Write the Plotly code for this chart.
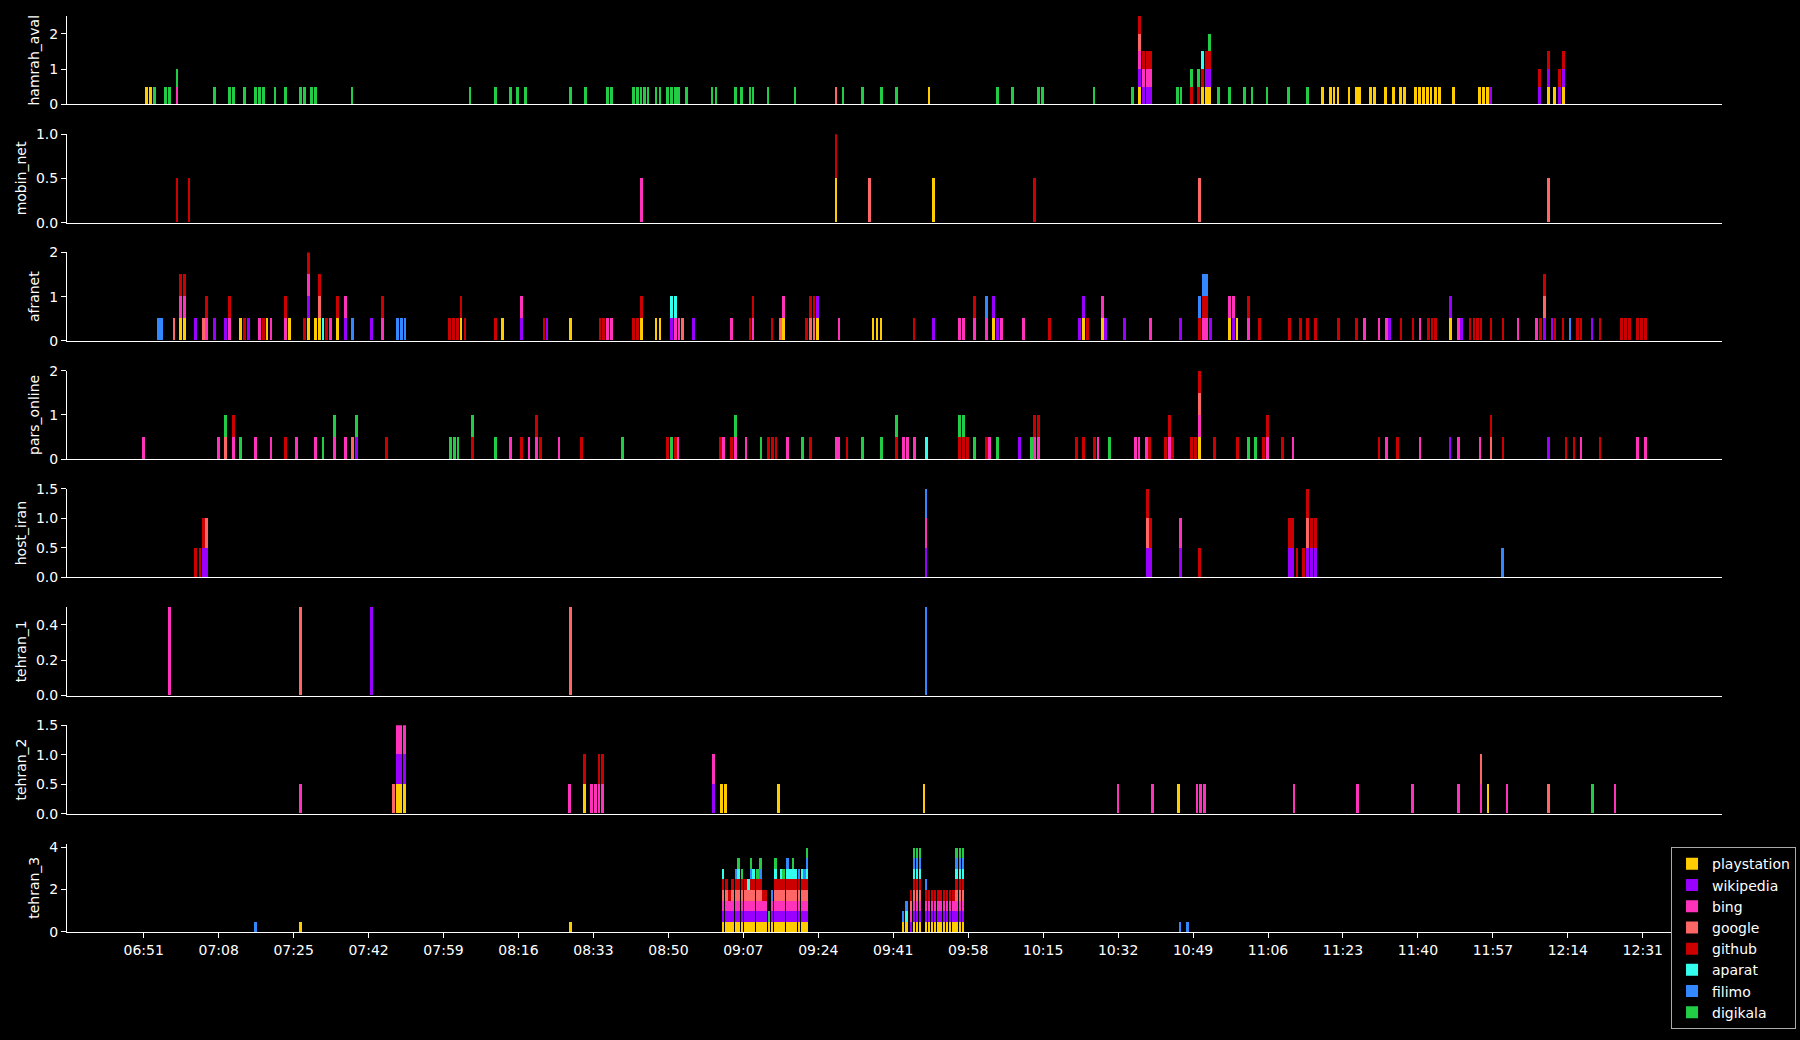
import plotly.graph_objects as go
from plotly.subplots import make_subplots

DATE = "2024-01-01"

SERVICES = ["playstation", "wikipedia", "bing", "google", "github", "aparat", "filimo", "digikala"]
CODES = ["P", "W", "B", "G", "H", "A", "F", "D"]
COLORS = ["#ffcc00", "#9900ff", "#ff33bb", "#ff6666", "#cc0000", "#33ffee", "#3388ff", "#22cc44"]
UNIT = 0.5  # height of one service segment

PANELS = ["hamrah_aval", "mobin_net", "afranet", "pars_online", "host_iran", "tehran_1", "tehran_2", "tehran_3"]

# (time, services present) ; each letter is one UNIT segment
HAMRAH_AVAL = [
    ("06:51:34", "P"), ("06:52:28", "P"), ("06:53:24", "D"), ("06:55:58", "D"), ("06:56:52", "D"),
    ("06:58:33", "BD"), ("07:07:06", "D"), ("07:10:24", "D"), ("07:11:24", "D"), ("07:13:54", "D"),
    ("07:16:24", "D"), ("07:17:18", "D"), ("07:18:12", "D"), ("07:20:48", "D"), ("07:23:12", "D"),
    ("07:26:36", "D"), ("07:27:30", "D"), ("07:29:06", "D"), ("07:30:00", "D"), ("07:38:12", "D"),
    ("08:05:00", "D"), ("08:10:48", "D"), ("08:14:12", "D"), ("08:15:48", "D"), ("08:17:36", "D"),
    ("08:27:48", "D"), ("08:31:12", "D"), ("08:36:12", "D"), ("08:37:06", "D"), ("08:42:06", "D"),
    ("08:43:00", "D"), ("08:43:48", "D"), ("08:44:36", "D"), ("08:45:24", "D"), ("08:47:12", "D"),
    ("08:48:06", "D"), ("08:49:48", "D"), ("08:50:42", "D"), ("08:51:36", "D"), ("08:52:18", "D"),
    ("08:54:06", "D"), ("08:59:54", "D"), ("09:00:48", "D"), ("09:05:12", "D"), ("09:06:36", "D"),
    ("09:08:30", "D"), ("09:09:12", "D"), ("09:12:36", "D"), ("09:18:42", "D"), ("09:28:00", "G"),
    ("09:29:36", "D"), ("09:34:00", "D"), ("09:38:18", "D"), ("09:41:42", "D"), ("09:49:06", "P"),
    ("10:04:42", "D"), ("10:08:00", "D"), ("10:14:00", "D"), ("10:14:48", "D"), ("10:26:30", "D"),
    ("10:35:12", "D"), ("10:36:48", "PWBGH"), ("10:37:42", "WBH"), ("10:38:36", "WBH"), ("10:39:18", "WBH"),
    ("10:45:30", "D"), ("10:46:18", "D"), ("10:48:42", "HD"), ("10:50:18", "HD"), ("10:51:12", "PHA"),
    ("10:52:00", "PWH"), ("10:52:42", "PWHD"), ("10:54:42", "D"), ("10:57:12", "D"), ("11:00:36", "D"),
    ("11:02:24", "D"), ("11:05:48", "D"), ("11:10:42", "D"), ("11:15:00", "D"),
    ("11:18:24", "P"), ("11:20:12", "P"), ("11:21:00", "P"), ("11:21:54", "P"), ("11:24:24", "P"),
    ("11:26:06", "P"), ("11:26:48", "P"), ("11:29:18", "P"), ("11:30:12", "P"), ("11:32:42", "P"),
    ("11:34:30", "P"), ("11:36:06", "P"), ("11:37:00", "P"), ("11:39:30", "P"), ("11:40:24", "P"),
    ("11:41:18", "P"), ("11:42:12", "P"), ("11:43:00", "P"), ("11:44:00", "P"), ("11:44:54", "P"),
    ("11:48:06", "P"), ("11:54:00", "P"), ("11:54:54", "P"), ("11:55:48", "P"), ("11:56:30", "W"),
    ("12:07:36", "WH"), ("12:09:36", "PWH"), ("12:11:00", "P"), ("12:12:06", "WH"), ("12:13:00", "PWH"),
]

MOBIN_NET = [
    ("06:58:33", "H"), ("07:01:18", "H"), ("08:43:54", "B"), ("09:28:00", "PH"), ("09:35:36", "G"),
    ("09:50:06", "P"), ("10:13:00", "H"), ("10:50:24", "G"), ("12:09:36", "G"),
]

AFRANET = [
    ("06:54:18", "F"), ("06:55:06", "F"), ("06:57:54", "G"), ("06:59:18", "PBH"), ("07:00:12", "PBH"),
    ("07:02:48", "W"), ("07:04:36", "G"), ("07:05:18", "BH"), ("07:07:06", "W"), ("07:09:36", "W"),
    ("07:10:30", "BH"), ("07:13:00", "P"), ("07:13:54", "H"), ("07:14:48", "W"), ("07:17:18", "B"),
    ("07:18:12", "H"), ("07:19:00", "P"), ("07:19:54", "B"), ("07:23:12", "BH"), ("07:24:06", "P"),
    ("07:27:30", "H"), ("07:28:24", "PWBH"), ("07:29:54", "P"), ("07:30:54", "PGH"), ("07:31:42", "A"),
    ("07:32:30", "H"), ("07:33:24", "B"), ("07:35:00", "PH"), ("07:36:48", "WB"), ("07:38:18", "F"),
    ("07:42:42", "W"), ("07:45:12", "BH"), ("07:48:36", "F"), ("07:49:30", "F"), ("07:50:18", "F"),
    ("08:00:24", "H"), ("08:01:12", "H"), ("08:02:06", "H"), ("08:03:00", "PH"), ("08:03:54", "H"),
    ("08:10:48", "H"), ("08:12:24", "P"), ("08:16:42", "WB"), ("08:21:48", "H"), ("08:22:30", "W"),
    ("08:27:48", "P"), ("08:34:30", "H"), ("08:35:18", "H"), ("08:36:12", "B"), ("08:37:06", "B"),
    ("08:42:06", "H"), ("08:43:00", "H"), ("08:43:54", "PH"), ("08:47:12", "P"), ("08:48:06", "P"),
    ("08:50:42", "WA"), ("08:51:36", "BA"), ("08:52:24", "B"), ("08:53:12", "G"), ("08:55:42", "W"),
    ("09:04:18", "B"), ("09:08:30", "H"), ("09:09:12", "BH"), ("09:13:30", "H"), ("09:15:24", "G"),
    ("09:16:06", "PB"), ("09:21:18", "H"), ("09:22:12", "GH"), ("09:23:00", "GH"), ("09:23:48", "PW"),
    ("09:28:42", "B"), ("09:36:24", "P"), ("09:37:18", "P"), ("09:38:12", "P"),
    ("09:45:42", "H"), ("09:50:06", "W"), ("09:56:00", "B"), ("09:56:54", "B"), ("09:59:30", "BH"),
    ("10:02:12", "BF"), ("10:03:48", "PW"), ("10:04:42", "W"), ("10:05:36", "B"), ("10:10:30", "B"),
    ("10:16:30", "H"), ("10:23:18", "W"), ("10:24:12", "PW"), ("10:25:06", "H"), ("10:28:24", "PB"),
    ("10:29:06", "W"), ("10:33:24", "W"), ("10:39:24", "B"), ("10:46:06", "W"), ("10:50:24", "HF"),
    ("10:51:18", "BHF"), ("10:52:06", "BHF"), ("10:52:54", "W"), ("10:57:12", "PB"), ("10:58:06", "WB"),
    ("10:59:00", "P"), ("11:01:36", "BH"), ("11:04:06", "H"), ("11:10:48", "H"), ("11:13:18", "H"),
    ("11:15:00", "H"), ("11:16:42", "H"), ("11:22:00", "H"), ("11:26:06", "H"), ("11:27:54", "B"),
    ("11:31:12", "B"), ("11:32:48", "B"), ("11:33:36", "W"), ("11:36:12", "H"), ("11:38:54", "H"),
    ("11:40:30", "B"), ("11:42:24", "H"), ("11:43:12", "H"), ("11:44:00", "H"), ("11:47:24", "PW"),
    ("11:49:12", "B"), ("11:49:54", "W"), ("11:51:48", "H"), ("11:52:42", "H"), ("11:53:30", "H"),
    ("11:54:18", "H"), ("11:56:36", "H"), ("11:59:18", "H"), ("12:02:42", "B"), ("12:06:54", "B"),
    ("12:07:48", "H"), ("12:08:42", "WGH"), ("12:10:24", "W"), ("12:11:06", "H"), ("12:12:54", "H"),
    ("12:14:30", "F"), ("12:16:12", "H"), ("12:17:00", "H"), ("12:19:30", "W"), ("12:21:18", "H"),
    ("12:26:12", "H"), ("12:27:06", "H"), ("12:28:00", "H"), ("12:29:48", "H"), ("12:30:42", "H"),
    ("12:31:36", "H"),
]

PARS_ONLINE = [
    ("06:51:00", "B"), ("07:07:54", "B"), ("07:09:30", "GD"), ("07:11:24", "BH"), ("07:13:00", "D"),
    ("07:16:24", "B"), ("07:19:54", "B"), ("07:23:12", "H"), ("07:25:42", "B"), ("07:30:00", "B"),
    ("07:31:42", "D"), ("07:34:18", "BD"), ("07:36:48", "B"), ("07:38:18", "G"), ("07:39:18", "WD"),
    ("07:46:06", "H"), ("08:00:36", "D"), ("08:01:30", "D"), ("08:02:18", "D"), ("08:05:36", "HD"),
    ("08:10:48", "D"), ("08:14:12", "B"), ("08:16:42", "H"), ("08:18:24", "B"), ("08:20:06", "BH"),
    ("08:21:00", "H"), ("08:25:12", "B"), ("08:30:18", "H"), ("08:39:36", "D"), ("08:49:48", "H"),
    ("08:50:42", "D"), ("08:51:36", "H"), ("08:52:12", "B"), ("09:01:48", "H"), ("09:02:30", "B"),
    ("09:04:18", "H"), ("09:05:12", "BD"), ("09:07:36", "B"), ("09:11:00", "D"), ("09:12:42", "H"),
    ("09:13:36", "H"), ("09:14:24", "H"), ("09:17:00", "B"), ("09:20:24", "D"), ("09:22:12", "H"),
    ("09:28:00", "B"), ("09:28:36", "B"), ("09:30:30", "H"), ("09:34:00", "D"), ("09:38:18", "D"),
    ("09:41:42", "HD"), ("09:43:18", "B"), ("09:44:12", "B"), ("09:45:48", "B"), ("09:48:30", "A"),
    ("09:56:00", "HD"), ("09:56:54", "HD"), ("09:57:54", "H"), ("09:59:30", "D"), ("10:02:12", "H"),
    ("10:02:48", "B"), ("10:04:42", "D"), ("10:09:36", "W"), ("10:12:18", "D"), ("10:13:00", "BH"),
    ("10:13:54", "BH"), ("10:22:30", "H"), ("10:24:12", "H"), ("10:26:36", "H"), ("10:27:24", "B"),
    ("10:30:00", "D"), ("10:35:54", "B"), ("10:36:42", "B"), ("10:38:30", "B"), ("10:39:06", "H"),
    ("10:42:48", "H"), ("10:43:42", "BH"), ("10:44:24", "H"), ("10:48:42", "H"), ("10:49:30", "H"),
    ("10:50:24", "PBGH"), ("10:53:48", "H"), ("10:59:06", "H"), ("11:01:36", "D"), ("11:03:12", "D"),
    ("11:05:00", "H"), ("11:05:54", "BH"), ("11:09:18", "H"), ("11:11:42", "B"), ("11:31:12", "H"),
    ("11:32:48", "B"), ("11:35:24", "H"), ("11:40:30", "B"), ("11:47:18", "W"), ("11:49:12", "B"),
    ("11:54:06", "B"), ("11:56:36", "GH"), ("11:59:18", "H"), ("12:09:36", "W"), ("12:13:36", "H"),
    ("12:15:24", "H"), ("12:17:00", "B"), ("12:21:18", "H"), ("12:29:48", "B"), ("12:31:36", "B"),
]

HOST_IRAN = [
    ("07:02:48", "H"), ("07:03:48", "H"), ("07:04:36", "WH"), ("07:05:18", "WG"), ("09:48:24", "WBF"),
    ("10:38:42", "WGH"), ("10:39:24", "WH"), ("10:46:06", "WB"), ("10:50:24", "H"), ("11:10:48", "WH"),
    ("11:11:36", "WH"), ("11:12:36", "H"), ("11:14:06", "H"), ("11:15:00", "WGH"), ("11:15:54", "WH"),
    ("11:16:42", "WH"), ("11:59:12", "F"),
]

TEHRAN_1 = [
    ("06:56:54", "B"), ("07:26:36", "G"), ("07:42:42", "W"), ("08:27:48", "G"), ("09:48:24", "F"),
]

TEHRAN_2 = [
    ("07:26:36", "B"), ("07:47:36", "G"), ("07:48:30", "PWB"), ("07:49:18", "PWB"), ("07:50:06", "PWB"),
    ("08:27:36", "B"), ("08:30:54", "PH"), ("08:32:36", "B"), ("08:33:24", "B"), ("08:34:18", "BH"),
    ("08:35:00", "BH"), ("09:00:18", "WB"), ("09:02:06", "P"), ("09:03:00", "P"), ("09:15:00", "P"),
    ("09:48:00", "P"), ("10:32:00", "B"), ("10:39:48", "B"), ("10:45:42", "P"), ("10:49:54", "B"),
    ("10:50:42", "B"), ("10:51:36", "B"), ("11:11:54", "B"), ("11:26:18", "B"), ("11:38:48", "B"),
    ("11:49:12", "B"), ("11:54:18", "BG"), ("11:55:54", "P"), ("12:00:12", "B"), ("12:09:36", "G"),
    ("12:19:36", "D"), ("12:24:42", "B"),
]

TEHRAN_3 = [
    ("07:16:24", "F"), ("07:26:36", "P"), ("08:27:48", "P"),
    ("09:02:24", "PWBGHA"), ("09:03:12", "PWBGH"), ("09:03:48", "PWBH"), ("09:04:30", "PWBGH"),
    ("09:05:18", "PWBGHF"), ("09:05:54", "PWBGHAD"), ("09:06:42", "PWBGHD"), ("09:07:30", "PWBGH"),
    ("09:08:06", "PWBGA"), ("09:08:42", "PWBGHFD"), ("09:09:18", "PWBGHA"), ("09:10:12", "PWBGHD"),
    ("09:10:54", "PWBGHFD"), ("09:11:36", "PWBH"), ("09:12:06", "PWBH"), ("09:12:48", "PD"),
    ("09:13:30", "PWBF"), ("09:14:18", "PWBGHAD"), ("09:14:54", "PWBGH"), ("09:15:30", "PWBGHA"),
    ("09:16:06", "PWBGHD"), ("09:17:00", "PWBGHAF"), ("09:17:42", "PWBGHA"), ("09:18:18", "PWBGHAD"),
    ("09:18:54", "PWBGHA"), ("09:19:36", "PWBGHF"), ("09:20:18", "PWBGHA"), ("09:20:54", "PWBGHF"),
    ("09:21:24", "PWBGHAFD"),
    ("09:43:12", "PF"), ("09:44:00", "PAF"), ("09:45:00", "WBGH"), ("09:45:42", "PWBGHAFD"),
    ("09:46:24", "PWBGHAFD"), ("09:47:06", "PWBGHAFD"), ("09:48:24", "PWBHF"), ("09:49:06", "PWBH"),
    ("09:49:48", "PWBH"), ("09:50:30", "PWBH"), ("09:51:12", "PWBH"), ("09:51:48", "PWBH"),
    ("09:52:30", "PWBH"), ("09:53:12", "PWBH"), ("09:53:54", "PWBH"), ("09:54:36", "PWBH"),
    ("09:55:24", "PWBGHAFD"), ("09:56:06", "PWBGHAFD"), ("09:56:48", "PWBGHAFD"),
    ("10:46:00", "F"), ("10:47:48", "F"),
]

PANEL_DATA = [HAMRAH_AVAL, MOBIN_NET, AFRANET, PARS_ONLINE, HOST_IRAN, TEHRAN_1, TEHRAN_2, TEHRAN_3]

Y_MAX = [2.5, 1.0, 2.0, 2.0, 1.5, 0.5, 1.5, 4.17]
Y_TICKVALS = [[0, 1, 2], [0, 0.5, 1.0], [0, 1, 2], [0, 1, 2], [0, 0.5, 1.0, 1.5],
              [0, 0.2, 0.4], [0, 0.5, 1.0, 1.5], [0, 2, 4]]
Y_TICKTEXT = [["0", "1", "2"], ["0.0", "0.5", "1.0"], ["0", "1", "2"], ["0", "1", "2"],
              ["0.0", "0.5", "1.0", "1.5"], ["0.0", "0.2", "0.4"], ["0.0", "0.5", "1.0", "1.5"],
              ["0", "2", "4"]]

X_TICKS = ["06:51", "07:08", "07:25", "07:42", "07:59", "08:16", "08:33", "08:50", "09:07", "09:24",
           "09:41", "09:58", "10:15", "10:32", "10:49", "11:06", "11:23", "11:40", "11:57", "12:14", "12:31"]
X_RANGE = ["06:33:36", "12:48:58"]

BAR_WIDTH_MS = 36000

N = len(PANELS)
fig = make_subplots(rows=N, cols=1, shared_xaxes=True, vertical_spacing=0.0325)

for name, code, color in zip(SERVICES, CODES, COLORS):
    shown = False
    for p, events in enumerate(PANEL_DATA):
        xs = [f"{DATE} {t}" for t, c in events if code in c]
        ys = [UNIT * c.count(code) for t, c in events if code in c]
        if not xs:
            xs, ys = [f"{DATE} {X_RANGE[0]}"], [0]
        fig.add_trace(
            go.Bar(x=xs, y=ys, width=BAR_WIDTH_MS, name=name, legendgroup=name,
                   showlegend=not shown, marker=dict(color=color, line=dict(width=0))),
            row=p + 1, col=1)
        shown = True

fig.update_layout(
    width=1800, height=1040,
    paper_bgcolor="black", plot_bgcolor="black",
    barmode="stack", bargap=0,
    margin=dict(l=67, r=78, t=16, b=108, autoexpand=False),
    font=dict(family="DejaVu Sans", size=14, color="white"),
    legend=dict(x=0.9692, y=0.0925, xanchor="left", yanchor="top",
                bgcolor="black", bordercolor="#aaaaaa", borderwidth=1,
                font=dict(size=14, color="white"), traceorder="normal",
                itemwidth=30, tracegroupgap=0),
)

for i in range(N):
    r = i + 1
    fig.update_xaxes(row=r, col=1, type="date",
                     range=[f"{DATE} {X_RANGE[0]}", f"{DATE} {X_RANGE[1]}"],
                     showline=True, linecolor="white", linewidth=1,
                     showgrid=False, zeroline=False,
                     ticks="" if r < N else "outside", showticklabels=(r == N),
                     tickcolor="white", ticklen=5,
                     tickvals=[f"{DATE} {t}" for t in X_TICKS], ticktext=X_TICKS,
                     tickfont=dict(size=14, color="white"))
    fig.update_yaxes(row=r, col=1, range=[0, Y_MAX[i]],
                     showline=True, linecolor="white", linewidth=1,
                     showgrid=False, zeroline=False,
                     ticks="outside", tickcolor="white", ticklen=5,
                     tickvals=Y_TICKVALS[i], ticktext=Y_TICKTEXT[i],
                     tickfont=dict(size=14, color="white"),
                     title=dict(text=PANELS[i], standoff=6, font=dict(size=14, color="white")),
                     automargin=False)

fig.write_html("out.html")
